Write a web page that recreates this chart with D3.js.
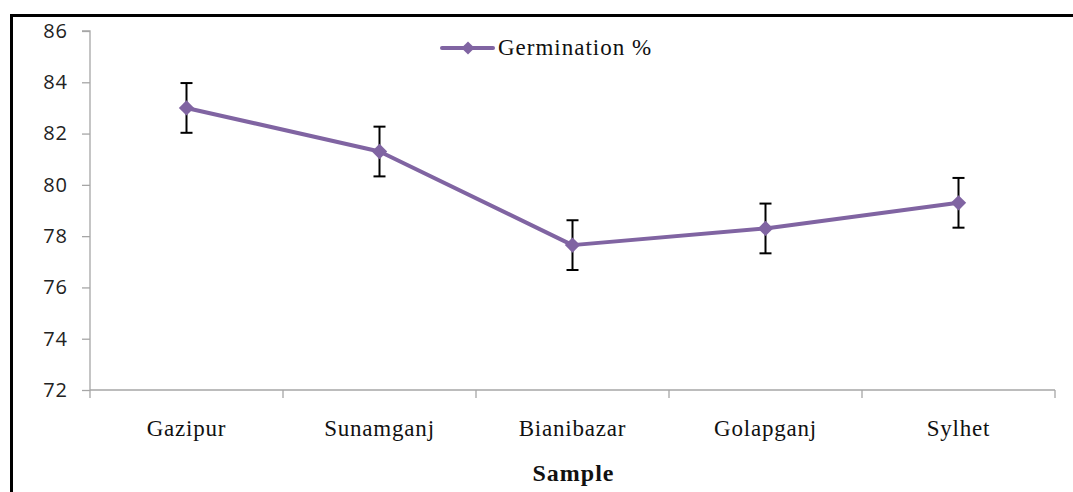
<!DOCTYPE html>
<html>
<head>
<meta charset="utf-8">
<script src="https://cdn.jsdelivr.net/npm/d3@7"></script>
<style>
  body { margin: 0; background: #fff; }
  svg { display: block; }
</style>
</head>
<body>
<svg id="chart" width="1073" height="492"></svg>
<script>
const samples = ['Gazipur', 'Sunamganj', 'Bianibazar', 'Golapganj', 'Sylhet'];
const germination = [83.0, 81.3, 77.65, 78.3, 79.3];
const errors = [0.97, 0.97, 0.97, 0.97, 0.97];
const yTicks = [72, 74, 76, 78, 80, 82, 84, 86];

const svg = d3.select('#chart');
const purple = '#8064a2';
const axisGrey = '#a6a6a6';
const serif = '"Liberation Serif", "Times New Roman", serif';

// frame (top + left only, like the cropped figure)
svg.append('path')
  .attr('d', 'M11.5,492 L11.5,15.5 L1073,15.5')
  .attr('fill', 'none')
  .attr('stroke', '#000')
  .attr('stroke-width', 3);

const m = { left: 90, right: 1055, top: 31, bottom: 390 };

const x = d3.scaleBand().domain(samples).range([m.left, m.right]);
const y = d3.scaleLinear().domain([72, 86]).range([m.bottom, m.top]);

// y axis
const yAxis = svg.append('g')
  .attr('transform', `translate(${m.left},0)`)
  .call(d3.axisLeft(y).tickValues(yTicks).tickSize(8).tickPadding(14).tickFormat(d3.format('d')));
yAxis.selectAll('path, line').attr('stroke', axisGrey).attr('stroke-width', 1.3);
yAxis.select('.domain').attr('d', `M-8,${m.top}H0V${m.bottom}`);
yAxis.selectAll('text')
  .attr('fill', '#222')
  .style('font-family', '"Open Sans", "DejaVu Sans", sans-serif')
  .style('font-size', '20px')
  .style('letter-spacing', '1px');

// x axis: ticks between categories
const xAxis = svg.append('g')
  .attr('transform', `translate(0,${m.bottom})`);
xAxis.append('line')
  .attr('x1', m.left).attr('x2', m.right)
  .attr('stroke', axisGrey).attr('stroke-width', 1.3);
const bounds = samples.map(s => x(s)).concat([x(samples[samples.length - 1]) + x.bandwidth()]);
xAxis.selectAll('.xtick')
  .data(bounds)
  .enter().append('line')
  .attr('class', 'xtick')
  .attr('x1', d => d).attr('x2', d => d)
  .attr('y1', 0).attr('y2', 8)
  .attr('stroke', axisGrey).attr('stroke-width', 1.3);
xAxis.selectAll('.xlabel')
  .data(samples)
  .enter().append('text')
  .attr('class', 'xlabel')
  .attr('x', d => x(d) + x.bandwidth() / 2)
  .attr('y', 46)
  .attr('text-anchor', 'middle')
  .attr('fill', '#111')
  .style('font-family', serif)
  .style('font-size', '23px')
  .style('letter-spacing', '0.8px')
  .text(d => d);

svg.append('text')
  .attr('x', (m.left + m.right) / 2 + 1)
  .attr('y', 481)
  .attr('text-anchor', 'middle')
  .attr('fill', '#111')
  .style('font-family', serif)
  .style('font-size', '24px')
  .style('font-weight', 'bold')
  .style('letter-spacing', '1px')
  .text('Sample');

const cx = (_, i) => x(samples[i]) + x.bandwidth() / 2;

// line
const line = d3.line()
  .x((d, i) => cx(d, i))
  .y(d => y(d));
svg.append('path')
  .datum(germination)
  .attr('d', line)
  .attr('fill', 'none')
  .attr('stroke', purple)
  .attr('stroke-width', 4)
  .attr('stroke-linejoin', 'round');

// error bars
const eb = svg.append('g').attr('stroke', '#000').attr('stroke-width', 2);
germination.forEach((v, i) => {
  const px = cx(v, i);
  const top = y(v + errors[i]);
  const bot = y(v - errors[i]);
  eb.append('line').attr('x1', px).attr('x2', px).attr('y1', top).attr('y2', bot);
  eb.append('line').attr('x1', px - 6).attr('x2', px + 6).attr('y1', top).attr('y2', top);
  eb.append('line').attr('x1', px - 6).attr('x2', px + 6).attr('y1', bot).attr('y2', bot);
});

// markers
const diamond = d3.symbol().type(d3.symbolDiamond2).size(150);
svg.selectAll('.marker')
  .data(germination)
  .enter().append('path')
  .attr('class', 'marker')
  .attr('d', diamond)
  .attr('transform', (d, i) => `translate(${cx(d, i)},${y(d)})`)
  .attr('fill', purple);

// legend
const lg = svg.append('g').attr('transform', 'translate(442,48)');
lg.append('line').attr('x1', 0).attr('x2', 51)
  .attr('stroke', purple).attr('stroke-width', 4).attr('stroke-linecap', 'round');
lg.append('path').attr('d', d3.symbol().type(d3.symbolDiamond2).size(110))
  .attr('transform', 'translate(26,0)').attr('fill', purple);
lg.append('text')
  .attr('x', 56).attr('y', 7)
  .attr('fill', '#111')
  .style('font-family', serif)
  .style('font-size', '23px')
  .style('letter-spacing', '1px')
  .text('Germination %');
</script>
</body>
</html>
